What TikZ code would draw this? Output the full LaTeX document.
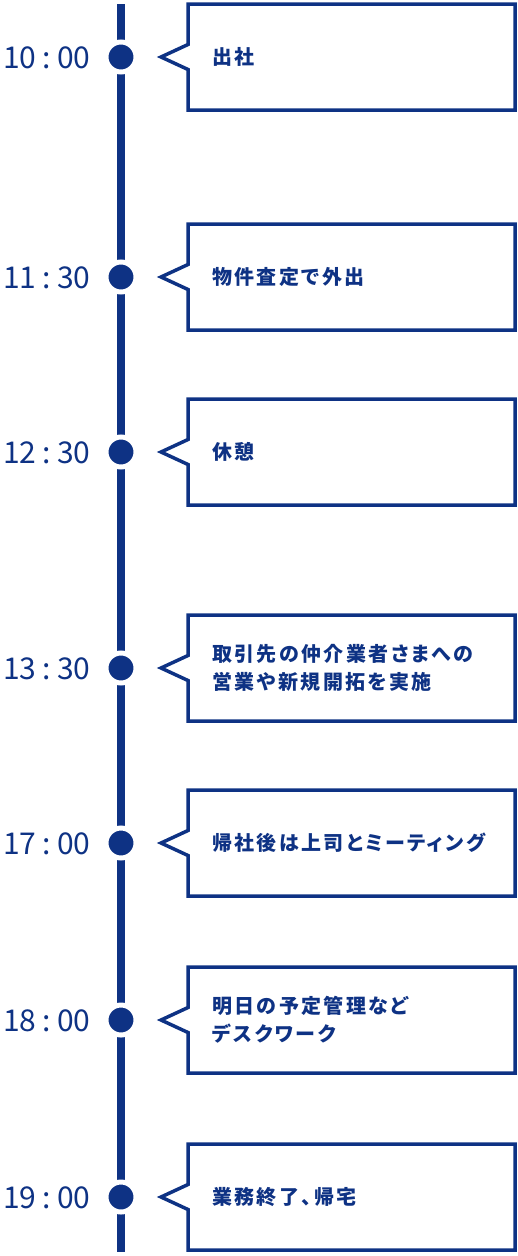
\documentclass[tikz,border=0pt]{standalone}
\usepackage{fontspec}
\newfontfamily\timefont{Noto Sans CJK JP}
\newfontfamily\boxfont[LetterSpace=12,RawFeature=+palt]{Noto Sans CJK JP}
\definecolor{navy}{RGB}{14,50,132}
\newcommand\tcolon{\kern6pt:\kern6.5pt}
\begin{document}
\begin{tikzpicture}[x=1pt,y=-1pt,
  timeline/.style={draw=navy, line width=8pt},
  dotmark/.style={circle, fill=navy, draw=white, line width=5pt, minimum size=30pt, inner sep=0pt},
  bubble/.style={draw=navy, line width=3.5pt, line join=miter},
  timelabel/.style={anchor=west, inner sep=0pt, text=navy, font=\timefont\fontsize{30}{30}\selectfont},
  bubtext/.style={anchor=west, inner sep=0pt, text=navy, align=left, font=\boxfont\bfseries\fontsize{20}{28}\selectfont}
]
\useasboundingbox (0,0) rectangle (518,1256);
\coordinate (ltop) at (121,4);
\coordinate (lbot) at (121,1252);
\draw[timeline] (ltop) -- (lbot);
\foreach \i/\c/\t/\txt in {
  1/57/10\tcolon00/{出社},
  2/277/11\tcolon30/{物件査定で外出},
  3/452/12\tcolon30/{休憩},
  4/668/13\tcolon30/{取引先の仲介業者さまへの\\営業や新規開拓を実施},
  5/843/17\tcolon00/{帰社後は上司とミーティング},
  6/1020/18\tcolon00/{明日の予定管理など\\デスクワーク},
  7/1197/19\tcolon00/{業務終了、帰宅}}{
  \node[dotmark] (d\i) at (121,\c) {};
  \node[timelabel] (t\i) at (3,\c+1) {\t};
  \draw[bubble] (188,\c+12.5) -- (161,\c) -- (188,\c-12.5) -- (188,\c-53) -- (515,\c-53) -- (515,\c+53) -- (188,\c+53) -- cycle;
  \node[bubtext] (b\i) at (212,\c) {\txt};
}
\end{tikzpicture}
\end{document}
